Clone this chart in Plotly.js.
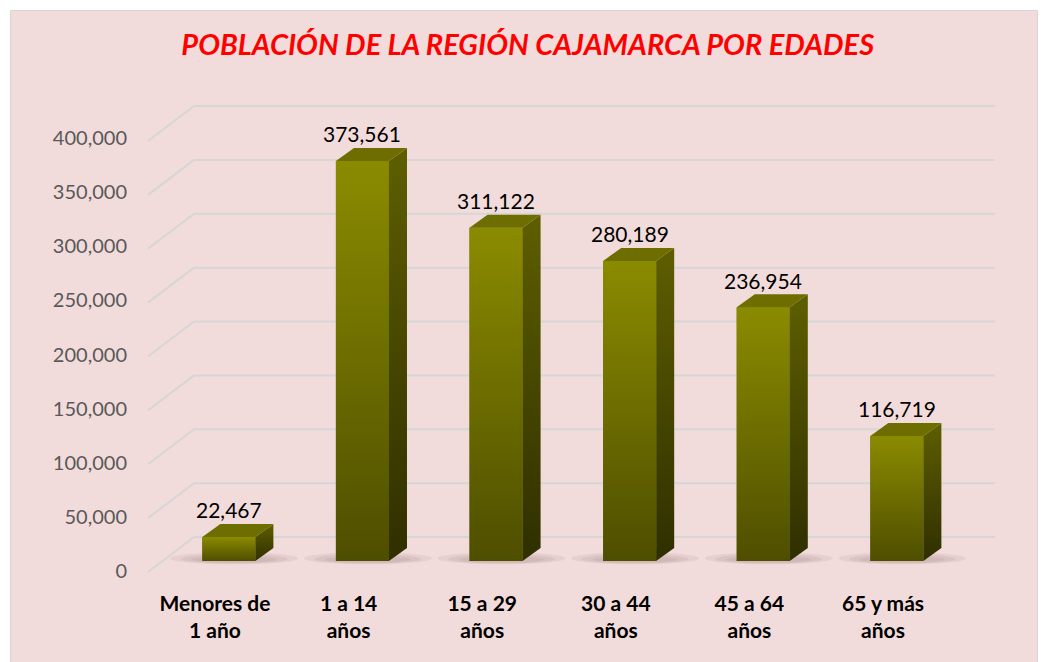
<!DOCTYPE html>
<html>
<head>
<meta charset="utf-8">
<script src="https://cdn.plot.ly/plotly-3.0.1.min.js"></script>
<style>
  html, body { margin:0; padding:0; background:#ffffff; width:1045px; height:662px; overflow:hidden; }
  #bg { position:absolute; left:10px; top:10px; width:1028px; height:670px; background:#F2DCDB;
        border:1.5px solid #d6d6d6; box-sizing:border-box; }
  #chart { position:absolute; left:0; top:0; width:1045px; height:662px; }
</style>
</head>
<body>
<div id="bg"></div>
<div id="chart"></div>
<script>
// ---- data ----
const categories = ['Menores de<br>1 año', '1 a 14<br>años', '15 a 29<br>años', '30 a 44<br>años', '45 a 64<br>años', '65 y más<br>años'];
const poblacion = [22467, 373561, 311122, 280189, 236954, 116719];
const yTickVals = [0, 50000, 100000, 150000, 200000, 250000, 300000, 350000, 400000];
const titleText = 'POBLACIÓN DE LA REGIÓN CAJAMARCA POR EDADES';

// ---- geometry / style (not data) ----
const X0 = -0.095, X1 = 0.302;   // front face extent relative to category position
const DX = 0.135, DY = 12150;    // 3D depth offsets (x units, y units)
const FONT = 'Lato, "Open Sans", sans-serif';
const idx = categories.map((c, i) => i);

const traces = [];

// front faces as real bars
traces.push({
  type: 'bar', x: idx, y: poblacion, base: 0,
  offset: X0, width: X1 - X0,
  marker: { color: '#6f6f00', line: { width: 0 } },
  hoverinfo: 'skip', showlegend: false, yaxis: 'y'
});

// gradient overlay on the front faces + side faces
poblacion.forEach((v, i) => {
  traces.push({
    type: 'scatter', mode: 'lines', fill: 'toself',
    x: [i + X0, i + X1, i + X1, i + X0, i + X0],
    y: [0, 0, v, v, 0],
    line: { width: 0 },
    fillgradient: { type: 'vertical', colorscale: [[0, '#4e4e00'], [1, '#8b8b00']] },
    hoverinfo: 'skip', showlegend: false
  });
  traces.push({
    type: 'scatter', mode: 'lines', fill: 'toself',
    x: [i + X1, i + X1 + DX, i + X1 + DX, i + X1, i + X1],
    y: [0, DY, v + DY, v, 0],
    line: { width: 0 },
    fillgradient: { type: 'vertical', colorscale: [[0, '#2f2f00'], [1, '#5e5e00']] },
    hoverinfo: 'skip', showlegend: false
  });
});

// top faces
const topX = [], topY = [];
poblacion.forEach((v, i) => {
  topX.push(i + X0, i + X1, i + X1 + DX, i + X0 + DX, i + X0, null);
  topY.push(v, v, v + DY, v + DY, v, null);
});
traces.push({
  type: 'scatter', mode: 'lines', fill: 'toself', x: topX, y: topY,
  line: { width: 0 }, fillcolor: '#6d6d00', hoverinfo: 'skip', showlegend: false
});

// empty trace so the label axis (y3) is created
traces.push({ type: 'scatter', mode: 'markers', x: [null], y: [null], yaxis: 'y3',
  hoverinfo: 'skip', showlegend: false });

// gridlines (back wall + side wall diagonals) on y2
const shapes = [];
const xpBackL = 0.0628, xpBackR = 0.9942, xpFront = 0.0093, FRONT_DY = 32500;
yTickVals.forEach(t => {
  shapes.push({ type: 'line', xref: 'paper', yref: 'y2', x0: xpBackL, x1: xpBackR, y0: t, y1: t,
    line: { color: '#d6d6d6', width: 2 }, layer: 'below' });
  shapes.push({ type: 'line', xref: 'paper', yref: 'y2', x0: xpFront, x1: xpBackL, y0: t - FRONT_DY, y1: t,
    line: { color: '#d6d6d6', width: 2 }, layer: 'below' });
});

// soft floor shadows under each bar (layered ellipses)
idx.forEach(i => {
  [[0.24, 9000], [0.16, 7000], [0.08, 5000]].forEach(([pad, h]) => {
    shapes.push({ type: 'circle', xref: 'x', yref: 'y', layer: 'below',
      x0: i + X0 - pad, x1: i + X1 + DX * 0.6 + pad, y0: -h * 0.35, y1: h * 0.9,
      fillcolor: 'rgba(130,100,100,0.10)', line: { width: 0 } });
  });
});

// data labels
const annotations = poblacion.map((v, i) => ({
  x: i + (X0 + X1) / 2, y: v, xref: 'x', yref: 'y',
  text: v.toLocaleString('en-US'), showarrow: false,
  yanchor: 'middle', yshift: 27,
  font: { family: FONT, size: 21, color: '#000000' }
}));

const layout = {
  width: 1045, height: 662,
  paper_bgcolor: 'rgba(0,0,0,0)', plot_bgcolor: 'rgba(0,0,0,0)',
  margin: { l: 140, r: 45, t: 100, b: 87 },
  showlegend: false,
  title: {
    text: titleText, xref: 'container', yref: 'container', x: 0.505, y: 0.932,
    xanchor: 'center', yanchor: 'middle',
    font: { family: FONT, size: 29, color: '#ff0000', weight: 'bold', style: 'italic' }
  },
  xaxis: {
    range: [-0.5614, 5.8757], tickmode: 'array', tickvals: idx, ticktext: categories,
    showgrid: false, zeroline: false, showline: false, ticks: '',
    ticklabelstandoff: 14,
    tickfont: { family: FONT, size: 21, color: '#000000', weight: 'bold' }
  },
  yaxis: { range: [-13072, 430436], visible: false, showgrid: false, zeroline: false },
  yaxis2: { range: [-35268, 405580], overlaying: 'y', visible: false, showgrid: false, zeroline: false },
  yaxis3: {
    range: [-3695, 435110], overlaying: 'y', side: 'left', anchor: 'x',
    tickmode: 'array', tickvals: yTickVals, tickformat: ',d',
    showgrid: false, zeroline: false, showline: false, ticks: '',
    ticklabelstandoff: 12,
    tickfont: { family: FONT, size: 20, color: '#595959' }
  },
  shapes: shapes,
  annotations: annotations
};

Plotly.newPlot('chart', traces, layout, { staticPlot: true, displayModeBar: false });
</script>
</body>
</html>
